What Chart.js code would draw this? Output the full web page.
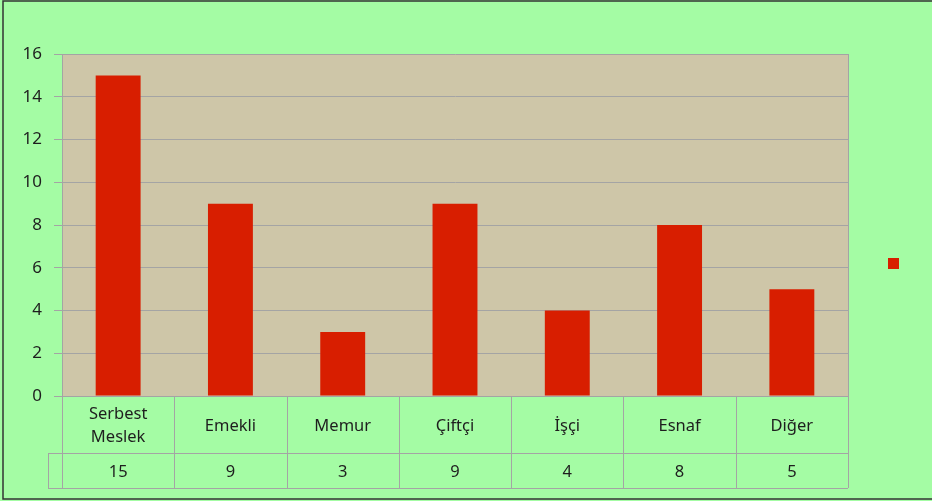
<!DOCTYPE html>
<html>
<head>
<meta charset="utf-8">
<script src="https://cdn.jsdelivr.net/npm/chart.js@4"></script>
<style>
  html, body { margin: 0; padding: 0; background: #a4fca4; }
  #wrap { width: 932px; height: 501px; }
</style>
</head>
<body>
<div id="wrap"><canvas id="job-chart" width="932" height="501"></canvas></div>
<script>
// category names, bar values and y tick range
const categories = [['Serbest', 'Meslek'], 'Emekli', 'Memur', 'Çiftçi', 'İşçi', 'Esnaf', 'Diğer'];
const counts = [15, 9, 3, 9, 4, 8, 5];
const yMin = 0;
const yMax = 16;
const yStep = 2;

const FONT = '"Noto Sans", "DejaVu Sans", sans-serif';
const lineGray = '#a4a4a4';

// green page, frame and tan plot area
const backgroundPlugin = {
    id: 'backgroundPlugin',
    beforeDraw: (chart) => {
        const { ctx, chartArea } = chart;
        ctx.save();
        ctx.fillStyle = '#a4fca4';
        ctx.fillRect(0, 0, chart.width, chart.height);
        ctx.strokeStyle = '#333';
        ctx.lineWidth = 1.5;
        ctx.strokeRect(3, 1, chart.width, chart.height - 3);
        ctx.fillStyle = '#cec6a8';
        ctx.fillRect(chartArea.left, chartArea.top, chartArea.right - chartArea.left, chartArea.bottom - chartArea.top);
        ctx.restore();
    }
};

// data table under the plot plus the lone legend key
const tablePlugin = {
    id: 'tablePlugin',
    afterDraw: (chart) => {
        const { ctx, chartArea } = chart;
        const x = chart.scales.x;
        const n = categories.length;
        const colW = (chartArea.right - chartArea.left) / n;
        const top = chartArea.bottom;
        const mid = top + 57;
        const bot = mid + 35;
        const keyLeft = chartArea.left - 14;

        ctx.save();
        ctx.strokeStyle = lineGray;
        ctx.lineWidth = 1;

        // right border of plot
        ctx.beginPath();
        ctx.moveTo(chartArea.right + 0.5, chartArea.top);
        ctx.lineTo(chartArea.right + 0.5, top);
        ctx.stroke();

        // horizontal rules
        ctx.beginPath();
        ctx.moveTo(chartArea.left, top + 0.5);
        ctx.lineTo(chartArea.right, top + 0.5);
        ctx.moveTo(keyLeft, mid + 0.5);
        ctx.lineTo(chartArea.right, mid + 0.5);
        ctx.moveTo(keyLeft, bot + 0.5);
        ctx.lineTo(chartArea.right, bot + 0.5);
        ctx.moveTo(keyLeft + 0.5, mid);
        ctx.lineTo(keyLeft + 0.5, bot);
        // column dividers
        for (let i = 0; i <= n; i++) {
            const px = Math.round(chartArea.left + i * colW) + 0.5;
            ctx.moveTo(px, top);
            ctx.lineTo(px, bot);
        }
        ctx.stroke();

        // text
        ctx.fillStyle = '#1e1e1e';
        ctx.font = '16.5px ' + FONT;
        ctx.textAlign = 'center';
        ctx.textBaseline = 'middle';
        categories.forEach((label, i) => {
            const cx = x.getPixelForValue(i);
            if (Array.isArray(label)) {
                ctx.fillText(label[0], cx, top + 18);
                ctx.fillText(label[1], cx, top + 41);
            } else {
                ctx.fillText(label, cx, top + 30);
            }
            ctx.fillText(String(counts[i]), cx, mid + 19);
        });

        // legend key with no text
        ctx.fillStyle = chart.data.datasets[0].backgroundColor;
        ctx.fillRect(888, 258, 11, 11);
        ctx.restore();
    }
};

new Chart(document.getElementById('job-chart'), {
    type: 'bar',
    data: {
        labels: categories.map(c => Array.isArray(c) ? c.join(' ') : c),
        datasets: [{
            data: counts,
            backgroundColor: '#d81e00',
            borderWidth: 0,
            barPercentage: 0.4,
            categoryPercentage: 1
        }]
    },
    options: {
        responsive: false,
        animation: false,
        layout: { padding: { top: 54, right: 84, left: 0, bottom: 0 } },
        plugins: {
            legend: { display: false },
            tooltip: { enabled: false }
        },
        scales: {
            x: {
                grid: { display: false },
                border: { color: lineGray },
                ticks: { display: false },
                afterFit: (s) => { s.height = 105; }
            },
            y: {
                min: yMin,
                max: yMax,
                ticks: {
                    stepSize: yStep,
                    padding: 12,
                    color: '#1e1e1e',
                    font: { size: 17, family: FONT }
                },
                grid: { color: lineGray, tickLength: 8 },
                border: { color: lineGray },
                afterFit: (s) => { s.width = 62; }
            }
        }
    },
    plugins: [backgroundPlugin, tablePlugin]
});
</script>
</body>
</html>
